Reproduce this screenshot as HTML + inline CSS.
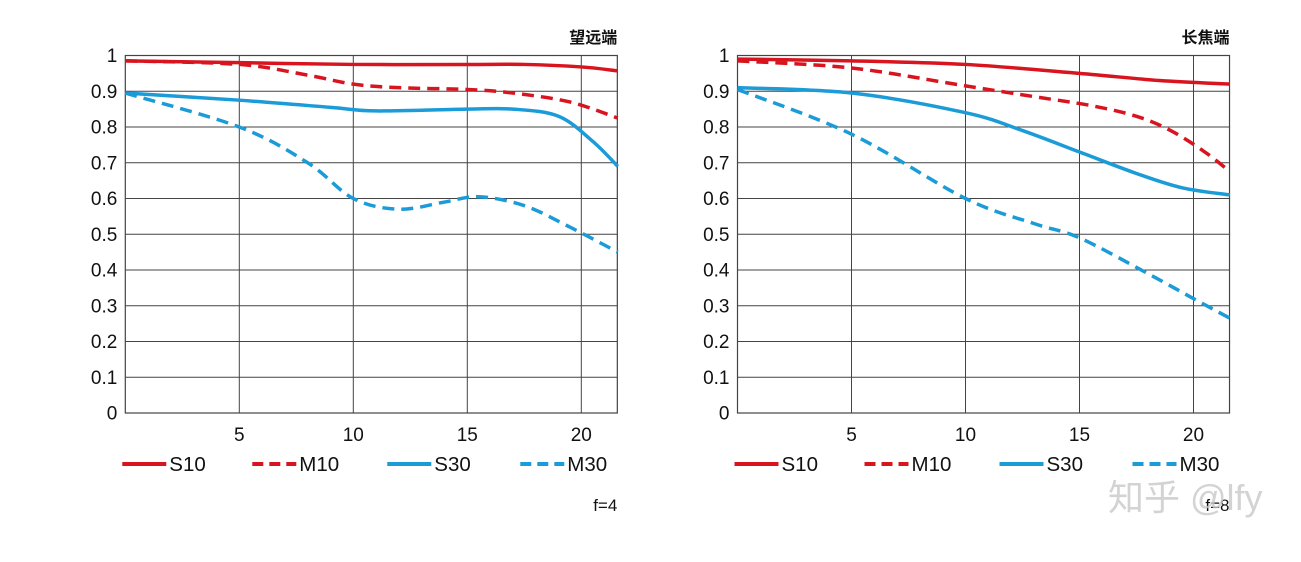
<!DOCTYPE html>
<html><head><meta charset="utf-8"><style>
body{margin:0;background:#fff;width:1301px;height:557px;overflow:hidden;font-family:"Liberation Sans","Noto Sans CJK SC",sans-serif}
</style></head><body>
<svg id="svg" width="1301" height="557"></svg>
<script>
const xTicks=[5,10,15,20];
const yTicks=[0,0.1,0.2,0.3,0.4,0.5,0.6,0.7,0.8,0.9,1];
const yLabels=["0","0.1","0.2","0.3","0.4","0.5","0.6","0.7","0.8","0.9","1"];
const legendNames=["S10","M10","S30","M30"];
const xL_S10=[0,5,10,15,17.5,20,21.6], yL_S10=[0.985,0.98,0.975,0.975,0.975,0.968,0.957];
const xL_M10=[0,5,8,10,12,15,17,19.5,21.6], yL_M10=[0.985,0.975,0.945,0.92,0.91,0.905,0.895,0.87,0.825];
const xL_S30=[0,5,9,11,15,17,19,20.5,21.6], yL_S30=[0.895,0.875,0.855,0.845,0.85,0.85,0.83,0.76,0.69];
const xL_M30=[0,5,8,10,12,14,15.5,17.5,19.5,21.6], yL_M30=[0.895,0.80,0.70,0.60,0.57,0.59,0.605,0.58,0.52,0.45];
const xR_S10=[0,5,10,15,18.5,21.6], yR_S10=[0.99,0.985,0.975,0.95,0.93,0.92];
const xR_M10=[0,5,10,13,15.5,17.5,19,20.5,21.6], yR_M10=[0.985,0.965,0.915,0.885,0.86,0.83,0.79,0.73,0.675];
const xR_S30=[0,5,10,12.5,15,17.5,19.5,21.6], yR_S30=[0.91,0.895,0.84,0.79,0.73,0.67,0.63,0.61];
const xR_M30=[0,5,10,13,15,18,20,21.6], yR_M30=[0.905,0.78,0.60,0.53,0.49,0.39,0.32,0.265];
const NS="http://www.w3.org/2000/svg";
const svg=document.getElementById('svg');
const RED="#d8141f",BLUE="#1b9bd7";
function mk(t,a,p){const e=document.createElementNS(NS,t);for(const k in a)e.setAttribute(k,a[k]);(p||svg).appendChild(e);return e;}
function curve(xs,ys,sx,sy){const P=xs.map((x,i)=>[sx(x),sy(ys[i])]);let d=`M${P[0][0]},${P[0][1]}`;
for(let i=0;i<P.length-1;i++){const p0=P[Math.max(0,i-1)],p1=P[i],p2=P[i+1],p3=P[Math.min(P.length-1,i+2)];
d+=` C${p1[0]+(p2[0]-p0[0])/6},${p1[1]+(p2[1]-p0[1])/6} ${p2[0]-(p3[0]-p1[0])/6},${p2[1]-(p3[1]-p1[1])/6} ${p2[0]},${p2[1]}`;}return d;}
function chart(x0,title,fl,series,name){
  const g=mk('g',{});
  
  
  const sx=v=>x0+v*22.8, sy=v=>413-v*357.5, xMax=21.58;
  yTicks.forEach((t,i)=>{const l=mk('line',{x1:x0,x2:sx(xMax),y1:sy(t),y2:sy(t),stroke:'#444','stroke-width':1},g);
    
    const tx=mk('text',{x:x0-8,y:sy(t)+6.5,'text-anchor':'end','font-size':19,fill:'#111'},g);tx.textContent=yLabels[i];
    });
  xTicks.forEach(t=>{const l=mk('line',{x1:sx(t),x2:sx(t),y1:sy(0),y2:sy(1),stroke:'#444','stroke-width':1},g);
    
    const tx=mk('text',{x:sx(t),y:441,'text-anchor':'middle','font-size':19,fill:'#111'},g);tx.textContent=t;
    });
  const b=mk('rect',{x:x0,y:sy(1),width:sx(xMax)-x0,height:sy(0)-sy(1),fill:'none',stroke:'#444','stroke-width':1.2},g);
  
  series.forEach((s,i)=>{const p=mk('path',{d:curve(s[0],s[1],sx,sy),fill:'none',stroke:i<2?RED:BLUE,'stroke-width':3.5,'stroke-dasharray':i%2?'12 7':'none'},g);
    });
  const lx=[x0-3,x0+127,x0+262,x0+395];
  legendNames.forEach((n,i)=>{const le=mk('g',{},g);
    mk('line',{x1:lx[i],x2:lx[i]+44,y1:464,y2:464,stroke:i<2?RED:BLUE,'stroke-width':4,'stroke-dasharray':i%2?'11 6':'none'},le);
    const t=mk('text',{x:lx[i]+47,y:471,'font-size':20.5,fill:'#111'},le);t.textContent=n;});
  const tt=mk('text',{x:sx(xMax),y:43,'text-anchor':'end','font-size':16,'font-weight':'bold',fill:'#111'},g);tt.textContent=title;
  
  const f=mk('text',{x:sx(xMax),y:511,'text-anchor':'end','font-size':17,fill:'#111'},g);f.textContent=fl;
  
}
chart(125.3,"望远端","f=4",[[xL_S10,yL_S10],[xL_M10,yL_M10],[xL_S30,yL_S30],[xL_M30,yL_M30]],'chart-telephoto');
chart(737.5,"长焦端","f=8",[[xR_S10,yR_S10],[xR_M10,yR_M10],[xR_S30,yR_S30],[xR_M30,yR_M30]],'chart-long-focal');
const w=mk('text',{x:1108,y:510,'font-size':36,fill:'#c8c8c8','fill-opacity':0.8});w.textContent="知乎 @lfy";

</script>
</body></html>
